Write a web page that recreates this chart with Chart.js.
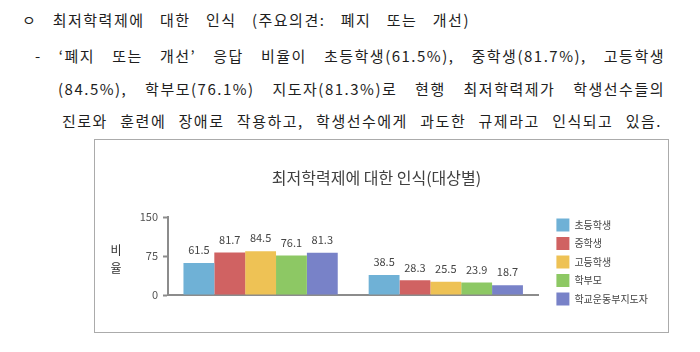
<!DOCTYPE html>
<html>
<head>
<meta charset="utf-8">
<script src="https://cdn.jsdelivr.net/npm/chart.js@4.4.1/dist/chart.umd.min.js"></script>
<style>
  html, body { margin: 0; padding: 0; background: #ffffff; }
  body { width: 700px; height: 352px; position: relative; overflow: hidden;
         font-family: 'Noto Sans CJK KR', sans-serif; color: #1e1e1e; }
  .ln { position: absolute; font-size: 15px; line-height: 20px; letter-spacing: 1.5px;
        text-align: justify; text-align-last: justify; }
  #box { position: absolute; left: 94px; top: 139px; width: 575px; height: 194px;
         box-sizing: border-box; border: 1.5px solid #ababab; }
  #c { position: absolute; left: 95px; top: 140px; }
</style>
</head>
<body>
<div class="ln" style="left:22px; top:10px; width:448px;">ㅇ 최저학력제에 대한 인식 (주요의견: 폐지 또는 개선)</div>
<div class="ln" style="left:35px; top:46px; width:630px;">- ‘폐지 또는 개선’ 응답 비율이 초등학생(61.5%), 중학생(81.7%), 고등학생</div>
<div class="ln" style="left:58px; top:79px; width:607px;">(84.5%), 학부모(76.1%) 지도자(81.3%)로 현행 최저학력제가 학생선수들의</div>
<div class="ln" style="left:62px; top:111px; width:600px;">진로와 훈련에 장애로 작용하고, 학생선수에게 과도한 규제라고 인식되고 있음.</div>
<div id="box"></div>
<canvas id="c" width="573" height="192"></canvas>
<script>
const chartTitle = '최저학력제에 대한 인식(대상별)';
const categories = ['폐지 또는 개선', '유지'];
const seriesNames = ['초등학생', '중학생', '고등학생', '학부모', '학교운동부지도자'];
const elementary = [61.5, 38.5];
const middleSchool = [81.7, 28.3];
const highSchool = [84.5, 25.5];
const parents = [76.1, 23.9];
const coaches = [81.3, 18.7];
const yTicks = [0, 75, 150];
const yAxisTitle = ['비', '율'];
const seriesColors = ['#6fb1d6', '#d06262', '#eec255', '#8dc864', '#7882c8'];

const seriesValues = [elementary, middleSchool, highSchool, parents, coaches];
const FONT = "'Noto Sans CJK KR', sans-serif";

const valueLabels = {
  id: 'valueLabels',
  afterDatasetsDraw(chart) {
    const ctx = chart.ctx;
    ctx.save();
    ctx.font = '11px ' + FONT;
    ctx.fillStyle = '#454545';
    ctx.textAlign = 'center';
    ctx.textBaseline = 'middle';
    chart.data.datasets.forEach((ds, i) => {
      const meta = chart.getDatasetMeta(i);
      meta.data.forEach((bar, j) => {
        ctx.fillText(ds.data[j].toFixed(1), bar.x, bar.y - 13);
      });
    });
    ctx.restore();
  }
};

const yTitle = {
  id: 'yTitle',
  afterDraw(chart) {
    const ctx = chart.ctx;
    const a = chart.chartArea;
    const mid = (a.top + a.bottom) / 2 + 3;
    ctx.save();
    ctx.font = '12px ' + FONT;
    ctx.fillStyle = '#333333';
    ctx.textAlign = 'center';
    ctx.textBaseline = 'middle';
    ctx.fillText(yAxisTitle[0], a.left - 52, mid - 9);
    ctx.fillText(yAxisTitle[1], a.left - 52, mid + 9);
    ctx.restore();
  }
};

new Chart(document.getElementById('c'), {
  type: 'bar',
  data: {
    labels: categories,
    datasets: seriesNames.map((name, i) => ({
      label: name,
      data: seriesValues[i],
      backgroundColor: seriesColors[i],
      borderWidth: 0,
      categoryPercentage: 0.833,
      barPercentage: 1.0
    }))
  },
  options: {
    responsive: false,
    devicePixelRatio: 1,
    animation: false,
    layout: { padding: { left: 0, right: 10, top: 0, bottom: 21 } },
    plugins: {
      title: {
        display: true,
        text: chartTitle,
        color: '#404040',
        font: { family: FONT, size: 16, weight: 'normal' },
        padding: { top: 28, bottom: 30 }
      },
      legend: {
        position: 'right',
        align: 'end',
        fullSize: true,
        maxWidth: 220,
        labels: {
          boxWidth: 13,
          boxHeight: 13,
          padding: 5.5,
          color: '#444444',
          font: { family: FONT, size: 10 }
        }
      },
      tooltip: { enabled: false }
    },
    scales: {
      x: {
        grid: { display: false },
        border: { display: true, color: '#8c8c8c', width: 2 },
        ticks: { color: '#333333', padding: 7, font: { family: FONT, size: 13 } },
        afterFit(scale) { scale.height = 16; }
      },
      y: {
        min: 0,
        max: 150,
        afterBuildTicks(scale) { scale.ticks = yTicks.map(v => ({ value: v })); },
        afterFit(scale) { scale.width = 73; },
        grid: { display: true, drawOnChartArea: false, drawTicks: true, tickLength: 5,
                tickColor: '#8c8c8c', tickWidth: 2 },
        border: { display: true, color: '#8c8c8c', width: 2 },
        ticks: { color: '#555555', padding: 5, font: { family: FONT, size: 11 } }
      },
      yR: {
        type: 'linear',
        position: 'right',
        display: true,
        grid: { display: false },
        border: { display: false },
        ticks: { display: false },
        afterFit(scale) { scale.width = 12.5; }
      }
    }
  },
  plugins: [valueLabels, yTitle]
});
</script>
</body>
</html>
